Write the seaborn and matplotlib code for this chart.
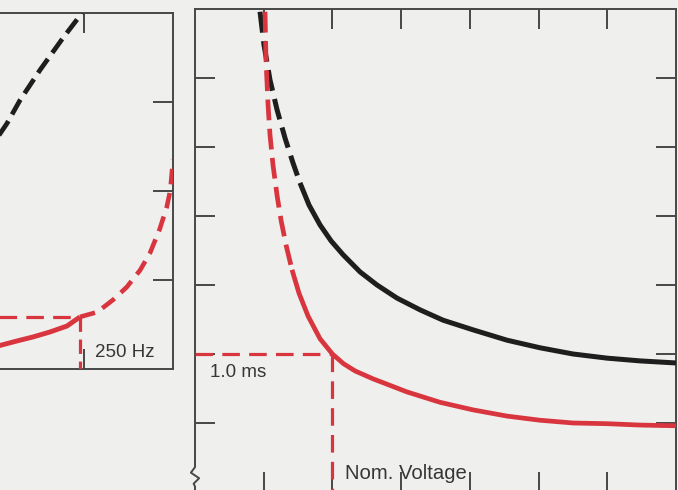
import matplotlib
matplotlib.use("Agg")
import matplotlib.pyplot as plt
import seaborn as sns

# ---------------- data ----------------
# Right panel: response curves (x: voltage units, y: time units)
black_dash_x = [0.946, 1.004, 1.092, 1.194, 1.310, 1.426, 1.528]
black_dash_y = [6.96, 6.48, 5.97, 5.54, 5.13, 4.77, 4.48]
black_solid_x = [1.528, 1.659, 1.820, 1.980, 2.154, 2.402, 2.649, 2.940, 3.275,
                 3.610, 4.047, 4.541, 5.022, 5.502, 5.997, 6.477, 7.0]
black_solid_y = [4.48, 4.16, 3.87, 3.64, 3.44, 3.19, 3.00, 2.81, 2.64,
                 2.49, 2.35, 2.20, 2.09, 2.00, 1.94, 1.90, 1.87]
red_dash_x = [1.019, 1.033, 1.063, 1.092, 1.135, 1.194, 1.252, 1.325, 1.412]
red_dash_y = [6.96, 6.26, 5.61, 5.17, 4.74, 4.30, 3.94, 3.58, 3.22]
red_solid_x = [1.412, 1.514, 1.645, 1.820, 2.0, 2.16, 2.329, 2.591, 3.086, 3.566,
               4.047, 4.541, 5.022, 5.502, 5.997, 6.477, 7.0]
red_solid_y = [3.22, 2.88, 2.55, 2.22, 2.0, 1.86, 1.755, 1.64, 1.45, 1.30,
               1.19, 1.10, 1.04, 1.00, 0.99, 0.97, 0.96]
ms_level = 2.0          # "1.0 ms"
nom_voltage = 2.0       # "Nom. Voltage"
right_ticks = [1, 2, 3, 4, 5, 6]

# Left panel: frequency inset
lf_black_x = [0.0, 0.135, 0.281, 0.506, 0.764, 0.978]
lf_black_y = [2.56, 2.76, 3.02, 3.36, 3.72, 4.0]
lf_red_solid_x = [0.0, 0.247, 0.427, 0.618, 0.809, 0.955]
lf_red_solid_y = [0.25, 0.315, 0.36, 0.416, 0.483, 0.585]
lf_red_dash_x = [0.955, 1.15, 1.33, 1.48, 1.63, 1.74, 1.85, 1.93, 1.97, 2.0]
lf_red_dash_y = [0.585, 0.64, 0.78, 0.92, 1.11, 1.30, 1.57, 1.82, 2.01, 2.35]
freq_x = 0.955          # "250 Hz"
freq_level = 0.585
left_yticks = [1, 2, 3]
left_xticks = [1]

label_ms = "1.0 ms"
label_volt = "Nom. Voltage"
label_freq = "250 Hz"

# ---------------- style ----------------
BG = "#efefed"
RED = "#d8353f"
BLACK = "#1e1e1e"
AXC = "#474747"
TXT = "#363636"

sns.set_style("white", {"axes.facecolor": BG, "figure.facecolor": BG})
plt.rcParams["font.family"] = ["Liberation Sans", "DejaVu Sans"]

fig = plt.figure(figsize=(6.78, 4.90), dpi=100)
W, H = 678.0, 490.0

ax = fig.add_axes([195 / W, -2 / H, 481 / W, 483 / H])
axl = fig.add_axes([-5 / W, 121 / H, 178 / W, 356 / H])

for a in (ax, axl):
    a.set_facecolor(BG)
    for s in a.spines.values():
        s.set_color(AXC)
        s.set_linewidth(1.4)

def line(a, x, y, color, lw, ls, cap="round", z=3):
    sns.lineplot(x=x, y=y, ax=a, color=color, linewidth=lw, linestyle=ls,
                 sort=False, estimator=None, dash_capstyle="butt",
                 solid_capstyle=cap, solid_joinstyle="round", zorder=z)

# ---- right panel ----
line(ax, black_dash_x, black_dash_y, BLACK, 3.6, (0, (4.2, 1.7)))
line(ax, black_solid_x, black_solid_y, BLACK, 3.6, "-", cap="butt")
line(ax, red_dash_x, red_dash_y, RED, 3.4, (0, (4.4, 1.8)))
line(ax, red_solid_x, red_solid_y, RED, 3.4, "-", cap="butt")
line(ax, [0, nom_voltage], [ms_level, ms_level], RED, 2.3, (0, (5.5, 2.9)))
line(ax, [nom_voltage, nom_voltage], [ms_level, 0], RED, 2.3, (0, (5.5, 2.9)))

ax.set_xlim(0, 7)
ax.set_ylim(0, 7)
ax.set_xticks(right_ticks)
ax.set_yticks(right_ticks)
ax.set_xticklabels([])
ax.set_yticklabels([])
ax.tick_params(axis="both", which="both", direction="in", length=14.5,
               width=1.4, color=AXC, top=True, bottom=True, left=True,
               right=True, labelbottom=False, labelleft=False)
ax.spines["bottom"].set_visible(False)
ax.spines["left"].set_bounds(0.40, 7)
ax.set_xlabel("")
ax.set_ylabel("")
# axis break mark on the left spine
ax.plot([0, 0, -0.06, 0.06, -0.02, 0, 0], [0.40, 0.36, 0.28, 0.20, 0.12, 0.08, 0.0],
        color=AXC, lw=1.4, clip_on=False, zorder=5)

ax.text(0.22, 1.725, label_ms, fontsize=13.5, color=TXT, ha="left", va="center")
ax.text(2.18, 0.275, label_volt, fontsize=14.6, color=TXT, ha="left", va="center",
        zorder=1)

# ---- left panel ----
line(axl, lf_black_x, lf_black_y, BLACK, 3.4, (0, (3.6, 1.6)))
line(axl, lf_red_solid_x, lf_red_solid_y, RED, 3.5, "-", cap="butt")
line(axl, lf_red_dash_x, lf_red_dash_y, RED, 3.3, (0, (3.4, 1.9)))
line(axl, [0, freq_x], [freq_level, freq_level], RED, 2.3, (0, (5.5, 2.9)))
line(axl, [freq_x, freq_x], [freq_level, 0], RED, 2.3, (0, (4.5, 2.4)))

axl.set_xlim(0, 2)
axl.set_ylim(0, 4)
axl.set_xticks(left_xticks)
axl.set_yticks(left_yticks)
axl.set_xticklabels([])
axl.set_yticklabels([])
axl.tick_params(axis="both", which="both", direction="in", length=14.5,
                width=1.4, color=AXC, top=True, bottom=True, left=False,
                right=True, labelbottom=False, labelleft=False)
axl.spines["left"].set_visible(False)
axl.set_xlabel("")
axl.set_ylabel("")
axl.text(1.124, 0.19, label_freq, fontsize=13.5, color=TXT, ha="left", va="center")

fig.savefig("out.png", dpi=100, facecolor=BG)
